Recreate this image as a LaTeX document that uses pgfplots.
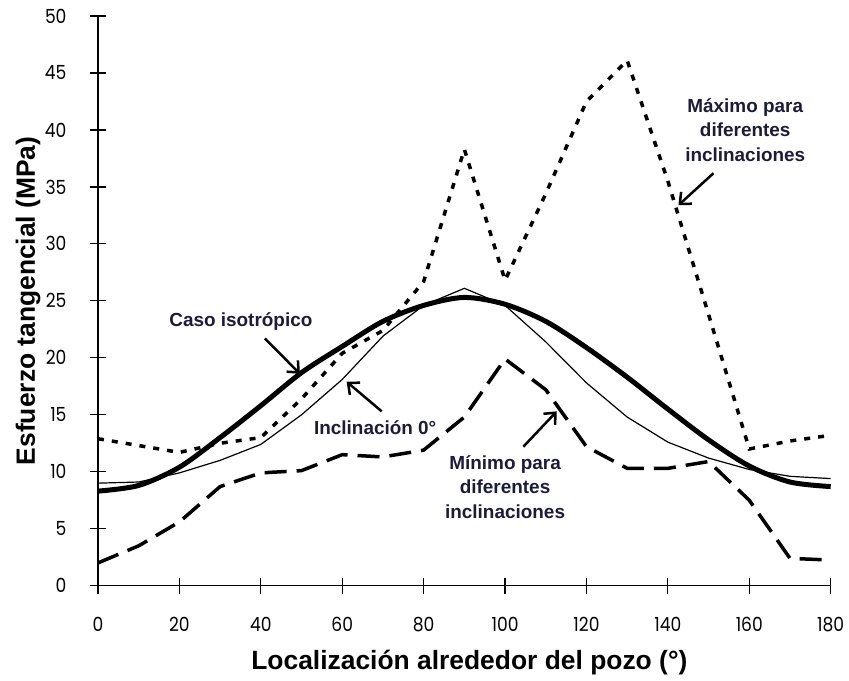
\documentclass[border=0pt]{standalone}
\usepackage{fontspec}
\setmainfont{Liberation Sans}
\newfontfamily\tickfont[FakeStretch=0.88]{Poppins}
\usepackage{pgfplots}
\pgfplotsset{compat=1.18}
\usetikzlibrary{arrows.meta}
\definecolor{annot}{HTML}{1B1B3A}

% Tangential stress around the borehole
\pgfplotstableread{
ang  iso   inc0  maxi  mini
0    8.3   9.0   12.9  2.0
10   8.8   9.1   12.3  3.5
20   10.4  9.9   11.7  5.6
30   13.0  11.0  12.5  8.7
40   15.8  12.4  13.0  9.9
50   18.7  15.0  16.4  10.1
60   21.0  18.1  20.4  11.5
70   23.2  21.9  22.4  11.3
80   24.6  24.6  26.7  11.9
90   25.3  26.1  38.3  14.8
100  24.7  24.6  26.8  19.9
110  23.2  21.4  34.4  17.2
120  20.9  17.8  42.5  12.2
130  18.3  14.8  46.1  10.3
140  15.5  12.6  35.5  10.3
150  12.8  11.2  23.8  10.9
160  10.5  10.2  12.0  7.5
170  9.1   9.6   12.7  2.4
180  8.7   9.4   13.2  2.25
}\stress

\begin{document}
\begin{tikzpicture}
\path[use as bounding box] (-98bp,-95.3bp) rectangle (751bp,585.7bp);
\begin{axis}[
  at={(0,0)}, anchor=south west,
  scale only axis, width=732.7bp, height=569.7bp,
  xmin=0, xmax=180, ymin=0, ymax=50,
  axis x line*=bottom, axis y line*=left,
  xtick={0,20,...,180}, ytick={0,5,...,50},
  tick align=center, major tick length=16bp,
  tick style={line width=1.2bp, black},
  axis line style={line width=1.2bp, black},
  ticklabel style={font=\tickfont\fontsize{19.5}{22}\selectfont, black},
  xticklabel style={yshift=-20bp},
  yticklabel style={xshift=-20bp},
  /pgf/number format/assume math mode=true,
  xlabel={Localización alrededor del pozo (°)},
  ylabel={Esfuerzo tangencial (MPa)},
  label style={font=\bfseries\fontsize{26.5}{30}\selectfont, black},
  xlabel style={at={(rel axis cs:0.5,0)}, anchor=center, xshift=5bp, yshift=-77bp},
  ylabel style={at={(rel axis cs:0,0.5)}, anchor=center, yshift=70bp},
  clip=false,
]
\addplot[black, line width=5bp, smooth] table[x=ang, y=iso] {\stress};
\addplot[black, line width=1.2bp] table[x=ang, y=inc0] {\stress};
\addplot[black, line width=3.5bp, dash pattern=on 6bp off 8bp] table[x=ang, y=maxi] {\stress};
\addplot[black, line width=3.5bp, dash pattern=on 22bp off 10bp] table[x=ang, y=mini] {\stress};

\begin{scope}[every node/.style={font=\bfseries\fontsize{19}{24.5}\selectfont, text=annot, align=center}]
\node at (axis cs:35.1,23.2) {Caso isotrópico};
\node at (axis cs:68.1,13.85) {Inclinación 0°};
\node at (axis cs:100.0,8.67) {Mínimo para\\diferentes\\inclinaciones};
\node at (axis cs:159.0,40.0) {Máximo para\\diferentes\\inclinaciones};
\end{scope}
\begin{scope}[line width=2.5bp, -{Straight Barb[length=9bp, width=16bp, line width=2.5bp]}]
\draw (axis cs:41.0,21.7) -- (axis cs:49.6,18.6);
\draw (axis cs:69.7,15.3) -- (axis cs:61.1,17.9);
\draw (axis cs:104.5,12.2) -- (axis cs:112.7,15.3);
\draw (axis cs:151.2,36.2) -- (axis cs:142.6,33.4);
\end{scope}
\end{axis}
\end{tikzpicture}
\end{document}
